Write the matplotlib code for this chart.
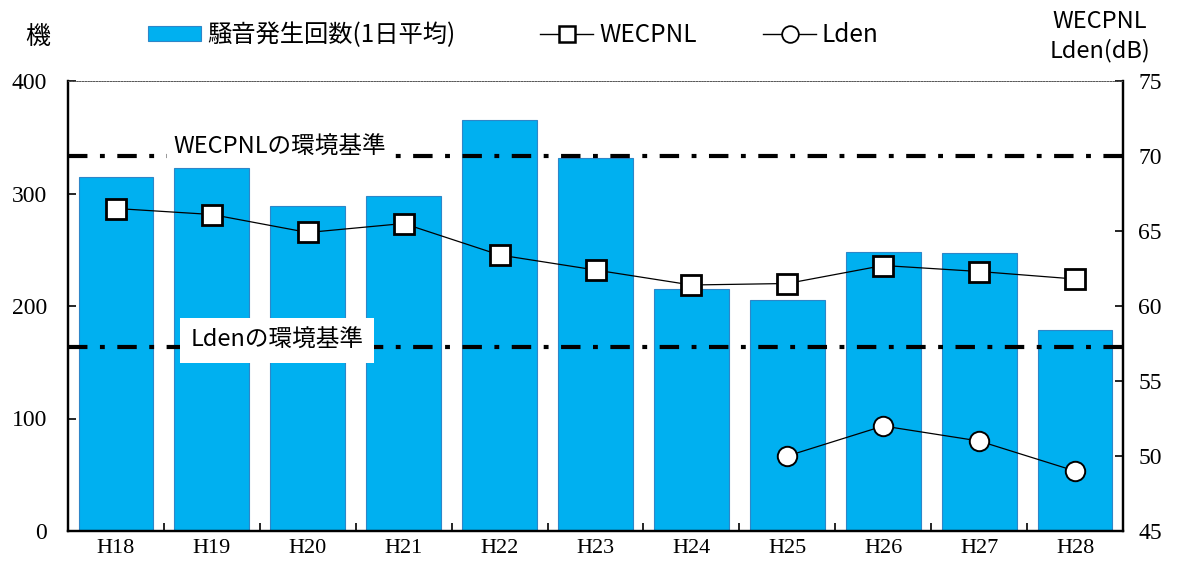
import matplotlib
matplotlib.use("Agg")
import matplotlib.pyplot as plt
from matplotlib.lines import Line2D
from matplotlib.patches import Patch
import numpy as np

plt.rcParams['lines.scale_dashes'] = False

years = ["H18", "H19", "H20", "H21", "H22", "H23", "H24", "H25", "H26", "H27", "H28"]
noise_count = [315, 323, 289, 298, 365, 332, 215, 205, 248, 247, 179]
wecpnl = [66.5, 66.1, 64.9, 65.5, 63.4, 62.4, 61.4, 61.5, 62.7, 62.3, 61.8]
lden_years = ["H25", "H26", "H27", "H28"]
lden = [50.0, 52.0, 51.0, 49.0]
wecpnl_std = 70
lden_std = 57.3

CJK = ['Noto Sans CJK JP', 'DejaVu Sans']
SERIF = ['Liberation Serif', 'DejaVu Serif']
BAR = '#00B0F0'
BAR_EDGE = '#2E86C8'

fig = plt.figure(figsize=(11.81, 5.63), dpi=100)
ax = fig.add_axes([68/1181, 1-531/563, (1123-68)/1181, (531-81)/563])
ax2 = ax.twinx()

x = np.arange(len(years))
ax.bar(x, noise_count, width=0.78, color=BAR, edgecolor=BAR_EDGE, linewidth=0.8, zorder=2)
ax.set_xlim(-0.5, len(years) - 0.5)
ax.set_ylim(0, 400)
ax.set_yticks([0, 100, 200, 300, 400])

ax2.set_ylim(45, 75)
ax2.set_yticks([45, 50, 55, 60, 65, 70, 75])

dash = (0, (14, 9, 3.5, 9))
ax2.axhline(wecpnl_std, color='black', lw=3, linestyle=dash, dash_capstyle='butt', zorder=3)
ax2.axhline(lden_std, color='black', lw=3, linestyle=dash, dash_capstyle='butt', zorder=3)

ax2.plot(x, wecpnl, color='black', lw=0.9, marker='s', markersize=14,
         markerfacecolor='white', markeredgecolor='black', markeredgewidth=2.0, zorder=5)
lx = [years.index(y) for y in lden_years]
ax2.plot(lx, lden, color='black', lw=0.9, marker='o', markersize=14,
         markerfacecolor='white', markeredgecolor='black', markeredgewidth=1.4, zorder=5)

ax2.text(1.71, 70.6, "WECPNLの環境基準", family=CJK, fontsize=17, ha='center', va='center',
         zorder=4, bbox=dict(boxstyle='square,pad=0.3', facecolor='white', edgecolor='none'))
ax2.text(1.68, 57.7, "Ldenの環境基準", family=CJK, fontsize=17, ha='center', va='center',
         zorder=4, bbox=dict(boxstyle='square,pad=0.45', facecolor='white', edgecolor='none'))

# spines
for a in (ax, ax2):
    for s in ('left', 'right', 'bottom'):
        a.spines[s].set_linewidth(1.6)
        a.spines[s].set_color('black')
    a.spines['top'].set_linestyle((0, (1, 1)))
    a.spines['top'].set_linewidth(0.6)
    a.spines['top'].set_color('#555555')

ax.set_xticks(x)
ax.set_xticklabels(years, family=SERIF, fontsize=16)
ax.set_xticks(np.arange(0.5, len(years) - 0.5, 1), minor=True)
ax.tick_params(axis='x', which='major', length=0, pad=6)
ax.tick_params(axis='x', which='minor', direction='in', length=6, width=1.2)
ax.tick_params(axis='y', direction='in', length=6, width=1.2, pad=15, labelsize=17)
ax2.tick_params(axis='y', direction='in', length=6, width=1.2, pad=11, labelsize=17)
for lab in ax.get_yticklabels() + ax2.get_yticklabels():
    lab.set_family(SERIF)

fig.text(38/1181, 1-37/563, "機", family=CJK, fontsize=18, ha='center', va='center')
fig.text(1100/1181, 1-36/563, "WECPNL\nLden(dB)", family=CJK, fontsize=17, ha='center',
         va='center', linespacing=1.3)

prop = {'family': CJK, 'size': 17.5}
fs_px = 17.5 * 100 / 72
items = [
    (Patch(facecolor=BAR, edgecolor=BAR_EDGE, linewidth=0.8), "騒音発生回数(1日平均)", 148),
    (Line2D([], [], color='black', lw=1, marker='s', markersize=12, markerfacecolor='white',
            markeredgecolor='black', markeredgewidth=1.8), "WECPNL", 540),
    (Line2D([], [], color='black', lw=1, marker='o', markersize=12, markerfacecolor='white',
            markeredgecolor='black', markeredgewidth=1.3), "Lden", 763),
]
for h, lab, xpx in items:
    fig.legend([h], [lab], loc='center left', bbox_to_anchor=(xpx/1181, 1-35/563),
               frameon=False, prop=prop, handlelength=53/fs_px, handleheight=0.55,
               handletextpad=6/fs_px, borderpad=0, borderaxespad=0)

fig.savefig("out.png", dpi=100)
